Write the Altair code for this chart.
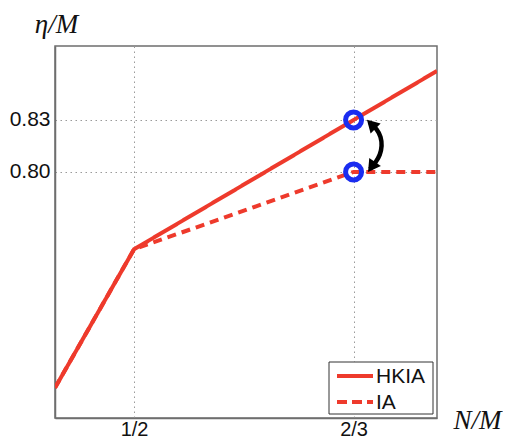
import altair as alt
import pandas as pd

# ---- data ----
series_names = ["HKIA", "IA"]
x_points = [0.44, 0.5, 2 / 3, 0.73]
hkia_values = [0.6754, 0.7554, 0.83, 0.8583]
ia_values = [0.6754, 0.7554, 0.80, 0.80]

circle_x = [2 / 3, 2 / 3]
circle_y = [0.83, 0.80]

arrow_x = [0.6792, 0.6845, 0.6875, 0.6883, 0.6868, 0.6837, 0.6792]
arrow_y = [0.8283, 0.8248, 0.8202, 0.8150, 0.8098, 0.8058, 0.8017]
head_x = [0.6812, 0.6812]
head_y = [0.8268, 0.8038]
head_angle = [315, 215]

x_tick_values = [0.5, 2 / 3]
x_tick_labels = ["1/2", "2/3"]
y_tick_values = [0.80, 0.83]

x_domain = [0.44, 0.73]
y_domain = [0.658, 0.8727]

RED = "#ee3a2c"
BLUE = "#1a2cf0"
FRAME = "#6e6e6e"

rows = []
for name, vals in zip(series_names, [hkia_values, ia_values]):
    for i, (xv, yv) in enumerate(zip(x_points, vals)):
        rows.append({"series": name, "x": xv, "y": yv, "i": i})
df_lines = pd.DataFrame(rows)

df_circ = pd.DataFrame({"x": circle_x, "y": circle_y})
df_arrow = pd.DataFrame({"x": arrow_x, "y": arrow_y, "i": list(range(len(arrow_x)))})
df_head = pd.DataFrame({"x": head_x, "y": head_y, "a": head_angle})

label_expr = " : ".join(
    [f"abs(datum.value - {v}) < 0.01 ? '{l}'" for v, l in zip(x_tick_values, x_tick_labels)]
) + " : ''"

common_axis = dict(
    titleFont="Liberation Serif",
    titleFontStyle="italic",
    titleFontWeight="normal",
    titleFontSize=27,
    titleAngle=0,
    titleAlign="center",
    titleBaseline="alphabetic",
    titleColor="#111",
    grid=True,
    gridDash=[1.5, 3.5],
    gridColor="#9a9a9a",
    gridWidth=1,
    ticks=False,
    labelFont="Liberation Sans",
    labelColor="#111",
    domainColor=FRAME,
    domainWidth=1.5,
)

x_enc = alt.X(
    "x:Q",
    scale=alt.Scale(domain=x_domain, nice=False, zero=False),
    axis=alt.Axis(
        values=x_tick_values,
        labelExpr=label_expr,
        title="N/M",
        titleX=422,
        titleY=10,
        labelPadding=1,
        labelFontSize=20,
        **common_axis,
    ),
)
y_enc = alt.Y(
    "y:Q",
    scale=alt.Scale(domain=y_domain, nice=False, zero=False),
    axis=alt.Axis(
        values=y_tick_values,
        format=".2f",
        title="η/M",
        titleX=1,
        titleY=-14,
        labelPadding=5,
        labelFontSize=21,
        **common_axis,
    ),
)

lines = alt.Chart(df_lines).mark_line(strokeWidth=4, color=RED, clip=True).encode(
    x=x_enc,
    y=y_enc,
    strokeDash=alt.StrokeDash(
        "series:N",
        scale=alt.Scale(domain=series_names, range=[[1, 0], [9, 6]]),
        legend=None,
    ),
    detail="series:N",
    order="i:Q",
)

circles = alt.Chart(df_circ).mark_point(
    shape="circle", size=256, strokeWidth=5, color=BLUE, filled=False, opacity=1
).encode(x="x:Q", y="y:Q")

arrow = alt.Chart(df_arrow).mark_line(
    strokeWidth=4.5, color="black", interpolate="basis"
).encode(x="x:Q", y="y:Q", order="i:Q")

heads = alt.Chart(df_head).mark_point(
    shape="triangle", size=200, filled=True, color="black", opacity=1
).encode(x="x:Q", y="y:Q", angle=alt.Angle("a:Q", scale=None))

# ---- legend (drawn by hand) ----
one = pd.DataFrame({"k": [0]})
legend_box = alt.Chart(one).mark_rect(
    fill="white", stroke="#333333", strokeWidth=1
).encode(x=alt.value(274), x2=alt.value(378), y=alt.value(316), y2=alt.value(368))

legend_layers = [legend_box]
dashes = [[1, 0], [10, 5]]
for k, name in enumerate(series_names):
    yy = 330 + 26 * k
    legend_layers.append(
        alt.Chart(one).mark_rule(color=RED, strokeWidth=4, strokeDash=dashes[k]).encode(
            x=alt.value(282), x2=alt.value(318), y=alt.value(yy)
        )
    )
    legend_layers.append(
        alt.Chart(pd.DataFrame({"t": [name]})).mark_text(
            align="left", baseline="middle", font="Liberation Sans", fontSize=21, color="#111"
        ).encode(x=alt.value(321), y=alt.value(yy + 1), text="t:N")
    )

chart = alt.layer(lines, circles, arrow, heads, *legend_layers).properties(
    width=382,
    height=372,
    autosize=alt.AutoSizeParams(type="none"),
    padding={"left": 47, "top": 38, "right": 66, "bottom": 22},
).configure_view(stroke=FRAME, strokeWidth=1.5)

chart.save("out.html", embed_options={"renderer": "svg", "actions": False})
